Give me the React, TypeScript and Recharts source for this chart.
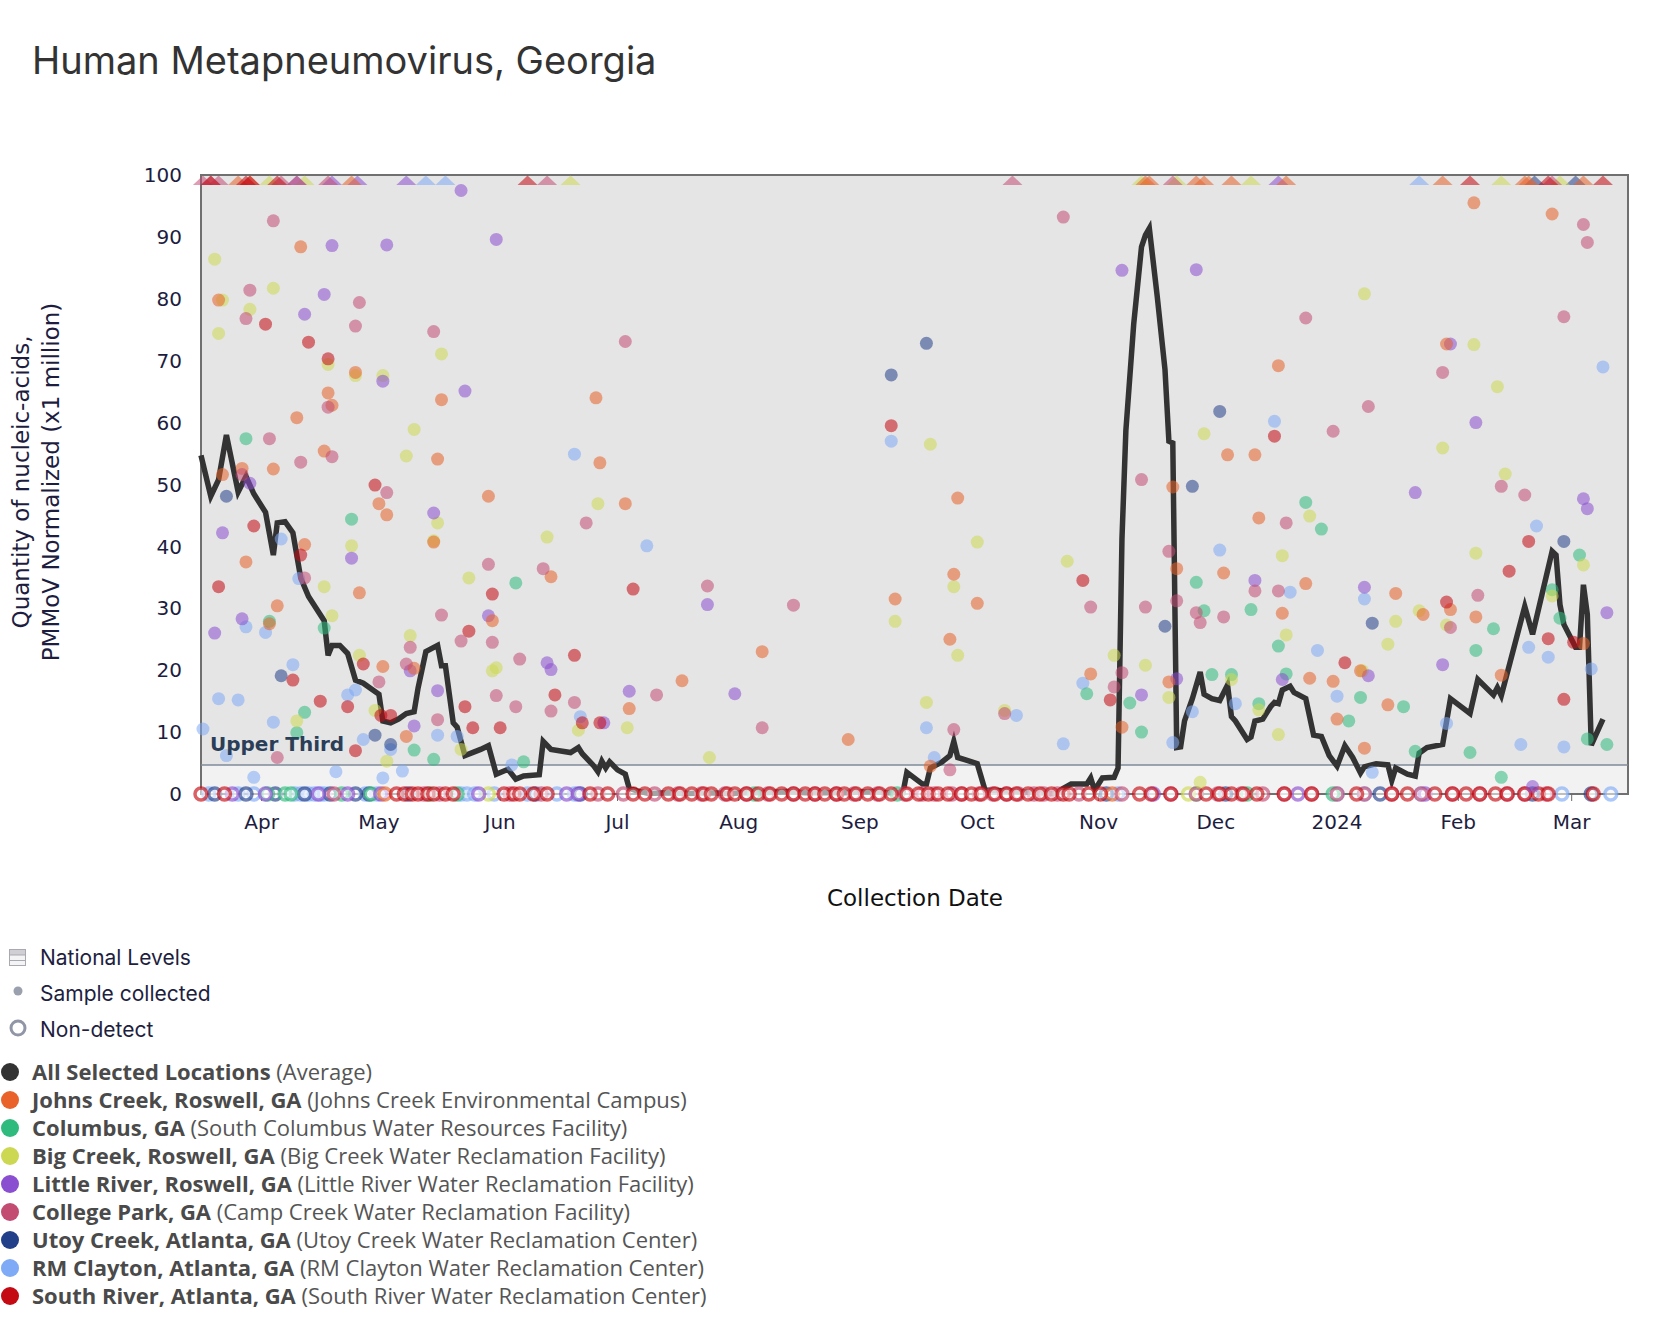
import React from "react";
import {
  ComposedChart,
  Line,
  Scatter,
  XAxis,
  YAxis,
  ReferenceArea,
  ReferenceLine,
} from "recharts";

// x values are days counted from 2023-03-16
const monthTicks = [16, 46, 77, 107, 138, 169, 199, 230, 260, 291, 322, 351];
const monthLabels = ["Apr", "May", "Jun", "Jul", "Aug", "Sep", "Oct", "Nov", "Dec", "2024", "Feb", "Mar"];
const yTicks = [0, 10, 20, 30, 40, 50, 60, 70, 80, 90, 100];
const upperThird = 4.7;

const averageLine = [
  [0.5, 54.7], [3, 48.1], [5, 50.8], [7, 58.0], [10, 48.8], [12, 51.3], [14, 48.5], [17, 45.5],
  [19, 38.6], [20, 43.8], [22, 44.0], [24, 42.2], [26, 34.9], [28, 31.9], [32, 28.0], [33, 22.4],
  [34, 24.0], [36, 24.0], [38, 22.7], [40, 18.4], [42, 17.9], [46, 16.1], [47, 11.8], [49, 11.5],
  [51, 12.1], [53, 13.0], [55, 13.3], [56, 17.1], [58, 23.0], [61, 24.0], [62, 20.7], [63, 20.7],
  [65, 11.5], [66, 10.8], [68, 6.2], [72, 7.2], [74, 7.8], [76, 3.2], [79, 4.0], [81, 2.4],
  [83, 2.9], [87, 3.1], [88, 8.5], [90, 7.2], [95, 6.7], [97, 7.5], [98, 6.5], [101, 4.5],
  [102, 3.6], [103, 5.3], [104, 4.2], [105, 5.2], [107, 3.9], [109, 3.2], [110, 0.9], [112, 0.5],
  [115, 0.1], [120, 0.2], [125, 0.1], [130, 0.2], [135, 0.1], [140, 0.2], [145, 0.2], [150, 0.4],
  [155, 0.2], [160, 0.2], [165, 0.2], [172, 0.4], [176, 0.2], [180, 0.2], [181, 3.5], [185, 1.6],
  [186, 1.6], [187, 4.2], [190, 5.2], [192, 6.2], [193, 8.5], [194, 5.9], [196, 5.5], [199, 4.9],
  [201, 0.6], [203, 0.6], [212, 0.3], [219, 0.1], [221, 0.9], [223, 1.6], [227, 1.6], [228, 2.6],
  [229, 0.6], [231, 2.6], [234, 2.7], [235, 4.2], [236, 41.2], [237, 58.7], [239, 75.9], [241, 88.4],
  [242, 90.3], [243, 91.4], [245, 80.5], [247, 68.6], [248, 57.0], [249, 56.7], [250, 7.5], [251, 7.6],
  [252, 11.8], [254, 15.4], [256, 19.7], [257, 16.1], [259, 15.4], [261, 15.1], [263, 17.6], [264, 12.5],
  [265, 11.8], [268, 8.8], [269, 9.2], [270, 11.8], [272, 12.1], [274, 14.1], [275, 14.8], [276, 14.6],
  [277, 16.8], [279, 17.4], [280, 16.4], [283, 15.4], [285, 9.5], [287, 9.3], [289, 6.2], [291, 4.5],
  [293, 7.8], [295, 5.9], [297, 3.4], [298, 4.4], [301, 4.9], [304, 4.7], [305, 2.2], [306, 4.2],
  [309, 3.2], [311, 2.9], [312, 6.6], [314, 7.5], [318, 8.0], [320, 15.4], [325, 13.0], [327, 18.5],
  [331, 16.0], [332, 17.2], [333, 15.9], [339, 30.3], [341, 25.8], [346, 39.2], [347, 38.6], [348, 30.6],
  [349, 27.4], [352, 23.7], [353, 23.7], [354, 33.8], [355, 29.0], [356, 7.9], [359, 12.1],
];

const johnsCreekDetects = [
  [26, 88.4], [5, 79.8], [40, 68.1], [33, 64.8], [34, 62.8], [62, 63.7], [25, 60.8], [32, 55.4],
  [61, 54.1], [102.5, 53.5], [101.5, 64.0], [11, 52.6], [6, 51.6], [19, 52.5], [46, 46.9], [48, 45.1],
  [60, 40.7], [74, 48.1], [109, 46.9], [27, 40.3], [90, 35.1], [12, 37.5], [41, 32.5], [20, 30.4],
  [18, 27.5], [75, 28.0], [47, 20.6], [55, 20.3], [110, 13.8], [53, 9.3], [194, 47.8], [193, 35.5],
  [199, 30.8], [178, 31.5], [192, 25.0], [144, 23.0], [123.5, 18.3], [166, 8.8], [187, 4.5], [276, 69.2],
  [263, 54.8], [270, 54.8], [249, 49.6], [271, 44.6], [250, 36.4], [262, 35.7], [283, 34.0], [277, 29.2],
  [228, 19.4], [236, 10.8], [248, 18.1], [284, 18.7], [290, 18.2], [297, 19.9], [291, 12.1], [298, 7.4],
  [304, 14.4], [313, 29.0], [320, 29.8], [319, 72.7], [326.5, 28.6], [326, 95.5], [346, 93.7], [306, 32.4],
  [333, 19.2], [354, 24.3],
];
const johnsCreekAbove = [10, 13, 39, 242, 243, 255, 257, 264, 278, 318, 339, 340, 354];
const johnsCreekNonDetects = [47.5, 233.5];

const columbusDetects = [
  [12, 57.4], [39, 44.4], [81, 34.1], [18, 27.9], [32, 26.8], [27, 13.2], [25, 9.9], [55, 7.1],
  [60, 5.6], [83, 5.2], [283, 47.1], [287, 42.8], [255, 34.2], [257, 29.6], [269, 29.8], [276, 23.9],
  [227, 16.2], [238, 14.7], [241, 10.0], [259, 19.3], [264, 19.3], [271, 14.6], [278, 19.4], [297, 15.6],
  [294, 11.8], [308, 14.1], [311, 6.9], [325, 6.7], [326.5, 23.2], [331, 26.7], [353, 38.6], [346, 33.0],
  [348, 28.4], [355, 8.9], [360, 8.0], [333, 2.7],
];
const columbusAbove: number[] = [];
const columbusNonDetects = [17.5, 22, 23.5, 36.5, 44, 59, 66, 142, 178.5, 255, 268, 290];

const bigCreekDetects = [
  [4, 86.4], [6, 79.8], [19, 81.7], [13, 78.3], [5, 74.4], [62, 71.1], [33, 69.4], [40, 67.6],
  [47, 67.6], [55, 58.9], [53, 54.6], [61, 43.8], [60, 40.9], [102, 46.9], [39, 40.1], [89, 41.5],
  [32, 33.5], [69, 34.9], [34, 28.8], [54, 25.6], [41, 22.4], [75, 19.9], [76, 20.4], [25, 11.8],
  [45, 13.5], [97, 10.3], [109.5, 10.7], [48, 5.3], [67, 7.2], [187, 56.5], [199, 40.7], [222, 37.6],
  [193, 33.5], [178, 27.9], [194, 22.4], [130.5, 5.9], [186, 14.8], [206, 13.5], [298, 80.8], [326, 72.6],
  [257, 58.2], [318, 55.9], [284, 44.9], [277, 38.5], [278, 25.7], [306, 27.9], [304, 24.2], [312, 29.6],
  [319, 27.3], [234, 22.4], [242, 20.8], [248, 15.6], [264, 18.5], [271, 13.6], [276, 9.6], [256, 1.9],
  [326.5, 38.9], [297.5, 19.9], [332, 65.8], [334, 51.7], [354, 37.0], [346, 32.0],
];
const bigCreekAbove = [18, 27, 95, 241, 250, 269, 333, 348];
const bigCreekNonDetects = [74, 253];

const littleRiverDetects = [
  [67, 97.5], [34, 88.6], [48, 88.7], [76, 89.6], [32, 80.7], [27, 77.5], [47, 66.7], [68, 65.1],
  [13, 50.2], [60, 45.4], [6, 42.2], [39, 38.1], [11, 28.3], [4, 26.0], [74, 28.8], [54, 19.9],
  [89, 21.2], [90, 20.1], [61, 16.7], [103.5, 11.5], [110, 16.6], [55, 11.0], [130, 30.6], [137, 16.2],
  [236, 84.6], [255, 84.7], [320, 72.7], [326.5, 60.0], [311, 48.7], [270, 34.5], [298, 33.4], [250, 18.6],
  [241, 16.0], [277, 18.5], [299, 19.1], [318, 20.9], [355, 46.1], [354, 47.7], [360, 29.3], [341, 1.2],
];
const littleRiverAbove = [25, 34, 40.5, 53, 276];
const littleRiverNonDetects = [8.5, 17, 30.5, 38, 46.5, 71.5, 94, 97, 244, 281, 313.5];

const collegeParkDetects = [
  [19, 92.6], [13, 81.4], [12, 76.8], [41, 79.4], [40, 75.6], [60, 74.7], [109, 73.1], [33, 62.5],
  [18, 57.4], [34, 54.5], [26, 53.6], [11, 51.6], [48, 48.7], [99, 43.8], [27, 34.9], [74, 37.1],
  [88, 36.4], [62, 28.9], [67, 24.7], [75, 24.5], [54, 23.7], [53, 21.0], [82, 21.8], [46, 18.1],
  [61, 12.0], [76, 15.9], [81, 14.1], [90, 13.4], [96, 14.8], [20, 5.9], [221, 93.2], [130, 33.6],
  [152, 30.5], [117, 16.0], [144, 10.7], [193, 10.4], [192, 3.9], [206, 13.0], [283, 76.9], [318, 68.1],
  [299, 62.6], [290, 58.6], [241, 50.8], [278, 43.8], [248, 39.2], [270, 32.8], [276, 32.8], [228, 30.2],
  [242, 30.2], [250, 31.2], [255, 29.3], [256, 27.7], [262, 28.6], [320, 26.9], [236, 19.6], [234, 17.3],
  [327, 32.1], [354, 92.0], [355, 89.1], [349, 77.1], [333, 49.7], [339, 48.3],
];
const collegeParkAbove = [1, 3, 5, 21, 25, 33, 89, 208, 249, 346];
const collegeParkNonDetects = [
  34.5, 57.5, 61.5, 79.5, 87.5, 102, 108.5, 116.5, 122.5, 128.5, 134.5, 140, 145.5, 152, 157.5, 163,
  167.5, 173.5, 180.5, 185, 188, 192.5, 195, 199.5, 203, 206.5, 209.5, 213.5, 216, 219.5, 225, 236,
  248.5, 255, 260.5, 266.5, 272, 277.5, 284.5, 291, 298, 305, 312.5, 320.5, 327.5, 334.5, 339, 344.5,
];

const utoyCreekDetects = [
  [7, 48.1], [21, 19.1], [45, 9.5], [49, 8.0], [186, 72.8], [177, 67.7], [261, 61.8], [254, 49.7],
  [247, 27.1], [300, 27.6], [349, 40.8],
];
const utoyCreekAbove = [341.5, 352];
const utoyCreekNonDetects = [4, 12, 19.5, 27, 33.5, 40, 43.5, 53.5, 86, 97.5, 232, 262.5, 302, 341, 356];

const rmClaytonDetects = [
  [96, 54.9], [21, 41.2], [25.5, 34.8], [12, 27.0], [17, 26.1], [24, 20.9], [5, 15.4], [10, 15.2],
  [40, 16.8], [38, 16.0], [19, 11.6], [1, 10.5], [97.5, 12.5], [61, 9.5], [66, 9.3], [49, 7.2],
  [42, 8.8], [7, 6.2], [14, 2.7], [35, 3.6], [47, 2.6], [52, 3.7], [80, 4.7], [114.5, 40.1],
  [177, 57.0], [186, 10.7], [188, 5.9], [209, 12.7], [221, 8.1], [275, 60.2], [261, 39.4], [279, 32.6],
  [286, 23.2], [226, 17.9], [249, 8.3], [254, 13.3], [265, 14.6], [291, 15.8], [300, 3.5], [319, 11.4],
  [298, 31.5], [359, 69.0], [342, 43.3], [340, 23.7], [345, 22.1], [356, 20.2], [338, 8.0], [349, 7.6],
];
const rmClaytonAbove = [58, 63, 312];
const rmClaytonNonDetects = [
  2.5, 10, 14, 24.5, 26, 28, 29.5, 31, 32, 42.5, 45.5, 67, 68.5, 70.5, 75.5, 84, 91.5, 96, 235, 291,
  298, 312.5, 348.5, 361,
];

const southRiverDetects = [
  [17, 75.9], [28, 73.0], [33, 70.3], [45, 49.9], [14, 43.3], [26, 38.6], [75, 32.3], [111, 33.1],
  [5, 33.5], [69, 26.3], [42, 21.0], [96, 22.4], [24, 18.4], [31, 15.0], [38, 14.1], [68, 14.1],
  [70, 10.7], [77, 10.7], [91, 16.0], [98, 11.5], [102.5, 11.5], [46.5, 12.7], [49, 12.7], [40, 7.0],
  [177, 59.5], [275, 57.8], [226, 34.5], [233, 15.2], [293, 21.2], [319, 31.0], [340, 40.8], [335, 36.0],
  [345, 25.1], [351.5, 24.5], [349, 15.3],
];
const southRiverAbove = [3, 12, 13, 20, 84, 325, 345, 359];
const southRiverNonDetects = [
  0.5, 6.5, 50.5, 52.5, 54.5, 56, 58.5, 60, 63, 65, 78, 80.5, 82, 85.5, 89, 100, 104.5, 111, 114, 120,
  123, 126, 129, 131, 135, 137, 140, 143, 146, 149, 152, 155, 157.5, 160, 163, 165, 168, 171, 174, 177,
  181, 184, 186.5, 189, 191.5, 195, 197.5, 200, 203.5, 206.5, 209, 212, 215, 218, 221, 222.5, 227.5,
  230.5, 240.5, 243.5, 248.5, 257.5, 261, 264, 267, 270.5, 277.5, 284.5, 296, 305, 309, 316, 320.5, 324,
  327.5, 331.5, 334.5, 339, 342.5, 345, 356.5,
];

const legendRows = [
  ["All Selected Locations", "(Average)", "#333333"],
  ["Johns Creek, Roswell, GA", "(Johns Creek Environmental Campus)", "#e8622a"],
  ["Columbus, GA", "(South Columbus Water Resources Facility)", "#2fbb7d"],
  ["Big Creek, Roswell, GA", "(Big Creek Water Reclamation Facility)", "#cdd852"],
  ["Little River, Roswell, GA", "(Little River Water Reclamation Facility)", "#8a4fd0"],
  ["College Park, GA", "(Camp Creek Water Reclamation Facility)", "#c24c72"],
  ["Utoy Creek, Atlanta, GA", "(Utoy Creek Water Reclamation Center)", "#223f8a"],
  ["RM Clayton, Atlanta, GA", "(RM Clayton Water Reclamation Center)", "#7faaf6"],
  ["South River, Atlanta, GA", "(South River Water Reclamation Center)", "#c40a12"],
];

// drawing order: later ones on top
const sites = [
  { id: "rm", color: "#7faaf6", detects: rmClaytonDetects, above: rmClaytonAbove, nd: rmClaytonNonDetects },
  { id: "utoy", color: "#223f8a", detects: utoyCreekDetects, above: utoyCreekAbove, nd: utoyCreekNonDetects },
  { id: "col", color: "#2fbb7d", detects: columbusDetects, above: columbusAbove, nd: columbusNonDetects },
  { id: "big", color: "#cdd852", detects: bigCreekDetects, above: bigCreekAbove, nd: bigCreekNonDetects },
  { id: "lr", color: "#8a4fd0", detects: littleRiverDetects, above: littleRiverAbove, nd: littleRiverNonDetects },
  { id: "jc", color: "#e8622a", detects: johnsCreekDetects, above: johnsCreekAbove, nd: johnsCreekNonDetects },
  { id: "cp", color: "#c24c72", detects: collegeParkDetects, above: collegeParkAbove, nd: collegeParkNonDetects },
  { id: "sr", color: "#c40a12", detects: southRiverDetects, above: southRiverAbove, nd: southRiverNonDetects },
];

const AXIS_FONT = "'DejaVu Sans', Verdana, sans-serif";
const TICK_COLOR = "#1d1d3f";

const dotShape = (color: string) => (p: any) => (
  <circle cx={p.cx} cy={p.cy} r={6.5} fill={color} fillOpacity={0.55} />
);
const triShape = (color: string) => (p: any) => (
  <polygon
    points={`${p.cx - 10},${p.cy + 10} ${p.cx + 10},${p.cy + 10} ${p.cx},${p.cy + 0.5}`}
    fill={color}
    fillOpacity={0.55}
  />
);
const ndShape = (color: string) => (p: any) => (
  <circle
    cx={p.cx}
    cy={p.cy}
    r={6}
    fill="#ffffff"
    fillOpacity={0.55}
    stroke={color}
    strokeOpacity={0.65}
    strokeWidth={3.5}
  />
);

export default function App() {
  const avg = averageLine.map(([d, v]) => ({ d, v }));

  return (
    <div style={{ position: "absolute", left: 0, top: 0, width: 1668, height: 1324, background: "#fff" }}>
      <ComposedChart width={1668} height={900} margin={{ top: 175, right: 40, bottom: 66, left: 0 }}>
        <XAxis
          type="number"
          dataKey="d"
          domain={[0.5, 365.4]}
          ticks={monthTicks}
          interval={0}
          tickFormatter={(t: number) => monthLabels[monthTicks.indexOf(t)] ?? ""}
          tick={{ fontSize: 20, fill: TICK_COLOR, fontFamily: AXIS_FONT }}
          tickLine={{ stroke: "#6b6b6b" }}
          axisLine={false}
          tickSize={7}
          tickMargin={14}
          height={40}
        />
        <YAxis
          type="number"
          dataKey="v"
          domain={[0, 100]}
          ticks={yTicks}
          interval={0}
          axisLine={false}
          tickLine={false}
          width={201}
          tickSize={8}
          tickMargin={11}
          tick={{ fontSize: 20, fill: TICK_COLOR, fontFamily: AXIS_FONT }}
        />
        <ReferenceArea x1={0.5} x2={365.4} y1={upperThird} y2={100} fill="#e5e5e5" fillOpacity={1} stroke="none" />
        <ReferenceArea x1={0.5} x2={365.4} y1={0} y2={upperThird} fill="#f2f2f2" fillOpacity={1} stroke="none" />
        <ReferenceLine y={upperThird} stroke="#7f8b99" strokeWidth={1.5} />

        {sites.map((s) => (
          <Scatter
            key={`nd-${s.id}`}
            data={s.nd.map((d) => ({ d, v: 0 }))}
            dataKey="v"
            shape={ndShape(s.color)}
            isAnimationActive={false}
          />
        ))}
        {sites.map((s) => (
          <Scatter
            key={`dt-${s.id}`}
            data={s.detects.map(([d, v]) => ({ d, v }))}
            dataKey="v"
            shape={dotShape(s.color)}
            isAnimationActive={false}
          />
        ))}
        {sites.map((s) => (
          <Scatter
            key={`ab-${s.id}`}
            data={s.above.map((d) => ({ d, v: 100 }))}
            dataKey="v"
            shape={triShape(s.color)}
            isAnimationActive={false}
          />
        ))}

        <Line
          data={avg}
          dataKey="v"
          type="linear"
          stroke="#333333"
          strokeWidth={5.5}
          dot={false}
          activeDot={false}
          isAnimationActive={false}
        />
        <ReferenceArea
          x1={0.5}
          x2={365.4}
          y1={0}
          y2={100}
          fill="none"
          stroke="#707070"
          strokeWidth={2}
        />
      </ComposedChart>

      <svg
        width={1668}
        height={1324}
        style={{ position: "absolute", left: 0, top: 0, pointerEvents: "none" }}
      >
        <text x={32} y={74} fontFamily="Inter, 'Noto Sans', sans-serif" fontSize={38} fill="#333333">
          Human Metapneumovirus, Georgia
        </text>

        <text
          transform="translate(29,482) rotate(-90)"
          textAnchor="middle"
          fontFamily={AXIS_FONT}
          fontSize={23}
          fill={TICK_COLOR}
        >
          Quantity of nucleic-acids,
        </text>
        <text
          transform="translate(59,482) rotate(-90)"
          textAnchor="middle"
          fontFamily={AXIS_FONT}
          fontSize={23}
          fill={TICK_COLOR}
        >
          PMMoV Normalized (x1 million)
        </text>
        <text x={915} y={906} textAnchor="middle" fontFamily={AXIS_FONT} fontSize={23} fill="#111111">
          Collection Date
        </text>

        <text x={210} y={751} fontFamily={AXIS_FONT} fontWeight={700} fontSize={20} fill="#2b3e57">
          Upper Third
        </text>

        {/* legend */}
        <g>
          <rect x={9.5} y={949.5} width={16} height={16} fill="#f4f4f4" stroke="#a9a9b2" strokeWidth={1} />
          <rect x={10} y={950} width={15} height={5} fill="#cfcfd4" />
          <line x1={9.5} x2={25.5} y1={955} y2={955} stroke="#a9a9b2" />
          <line x1={9.5} x2={25.5} y1={960.5} y2={960.5} stroke="#a9a9b2" />
          <text x={40} y={965} fontFamily="Inter, sans-serif" fontSize={21} fill="#1e1e3f">
            National Levels
          </text>
          <circle cx={18} cy={991} r={4.5} fill="#9aa0ad" />
          <text x={40} y={1001} fontFamily="Inter, sans-serif" fontSize={21} fill="#1e1e3f">
            Sample collected
          </text>
          <circle cx={18} cy={1028} r={7} fill="#fff" stroke="#9096a6" strokeWidth={3} />
          <text x={40} y={1037} fontFamily="Inter, sans-serif" fontSize={21} fill="#1e1e3f">
            Non-detect
          </text>
          {legendRows.map(([bold, rest, color], i) => (
            <g key={bold}>
              <circle cx={10} cy={1072 + i * 28} r={9} fill={color} />
              <text
                x={32}
                y={1080 + i * 28}
                fontFamily="'Open Sans', 'Noto Sans', sans-serif"
                fontSize={22}
                xmlSpace="preserve"
              >
                <tspan fontWeight={700} fill="#4a4a4a">{bold}</tspan>
                <tspan fill="#555555">{" " + rest}</tspan>
              </text>
            </g>
          ))}
        </g>
      </svg>
    </div>
  );
}
